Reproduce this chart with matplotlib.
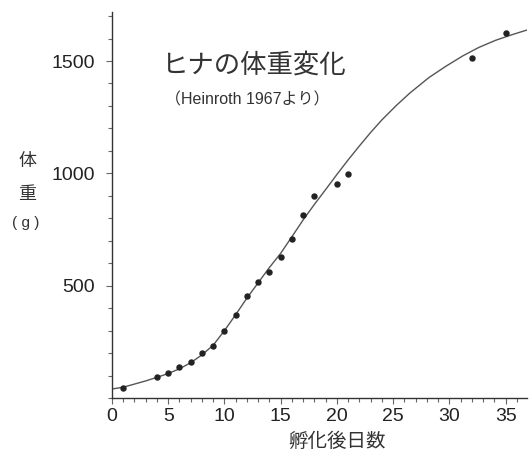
import numpy as np
import matplotlib.pyplot as plt
from matplotlib.ticker import MultipleLocator

plt.rcParams['font.family'] = ['Liberation Sans', 'Noto Sans CJK JP']

# measured points (day after hatching, weight g)
days = [1, 4, 5, 6, 7, 8, 9, 10, 11, 12, 13, 14, 15, 16, 17, 18, 20, 21, 32, 35]
weight = [45, 94, 112, 136, 158, 199, 230, 300, 371, 452, 518, 559, 629, 707,
          815, 900, 952, 999, 1512, 1626]

# growth curve
curve_x = [0, 1, 2, 3, 4, 5, 6, 7, 8, 9, 10, 11, 12, 13, 14, 15, 16, 17, 18,
           19, 20, 21, 22, 23, 24, 25.3, 26.5, 28.2, 29.7, 31.2, 32.6, 34.1,
           35.5, 36.9]
curve_y = [40, 48, 62, 76, 92, 109, 130, 157, 192, 235, 300, 371, 445, 513,
           581, 644, 718, 793, 862, 928, 995, 1060, 1122, 1182, 1238, 1303,
           1358, 1427, 1477, 1523, 1560, 1592, 1616, 1638]

fig = plt.figure(figsize=(5.30, 4.63), dpi=100)
ax = fig.add_axes([0.2113, 0.1404, 0.783, 0.8336])

ax.plot(curve_x, curve_y, color='#555555', lw=1.0)
ax.plot(days, weight, 'o', color='#222222', ms=3.6)

ax.set_xlim(0, 36.9)
ax.set_ylim(0, 1718)
ax.xaxis.set_major_locator(MultipleLocator(5))
ax.xaxis.set_minor_locator(MultipleLocator(1))
ax.set_yticks([500, 1000, 1500])
ax.yaxis.set_minor_locator(MultipleLocator(100))

for s in ['top', 'right']:
    ax.spines[s].set_visible(False)
for s in ['left', 'bottom']:
    ax.spines[s].set_color('#333333')
    ax.spines[s].set_linewidth(1.0)

ax.tick_params(which='both', direction='out', color='#666666', width=0.8,
               labelsize=14, labelcolor='#222222')
ax.tick_params(which='major', length=4)
ax.tick_params(which='minor', length=3)
ax.tick_params(axis='x', pad=3)
ax.tick_params(axis='y', pad=8)

fig.text(0.478, 0.859, 'ヒナの体重変化', fontsize=19, color='#333333',
         ha='center', va='center')
fig.text(0.466, 0.784, '（Heinroth 1967より）', fontsize=11.5, color='#333333',
         ha='center', va='center')

fig.text(0.051, 0.652, '体', fontsize=13, color='#333333', ha='center', va='center')
fig.text(0.051, 0.579, '重', fontsize=13, color='#333333', ha='center', va='center')
fig.text(0.049, 0.518, '( g )', fontsize=11, color='#333333', ha='center', va='center')

fig.text(0.636, 0.046, '孵化後日数', fontsize=14, color='#333333',
         ha='center', va='center')

fig.savefig('out.png', dpi=100)
